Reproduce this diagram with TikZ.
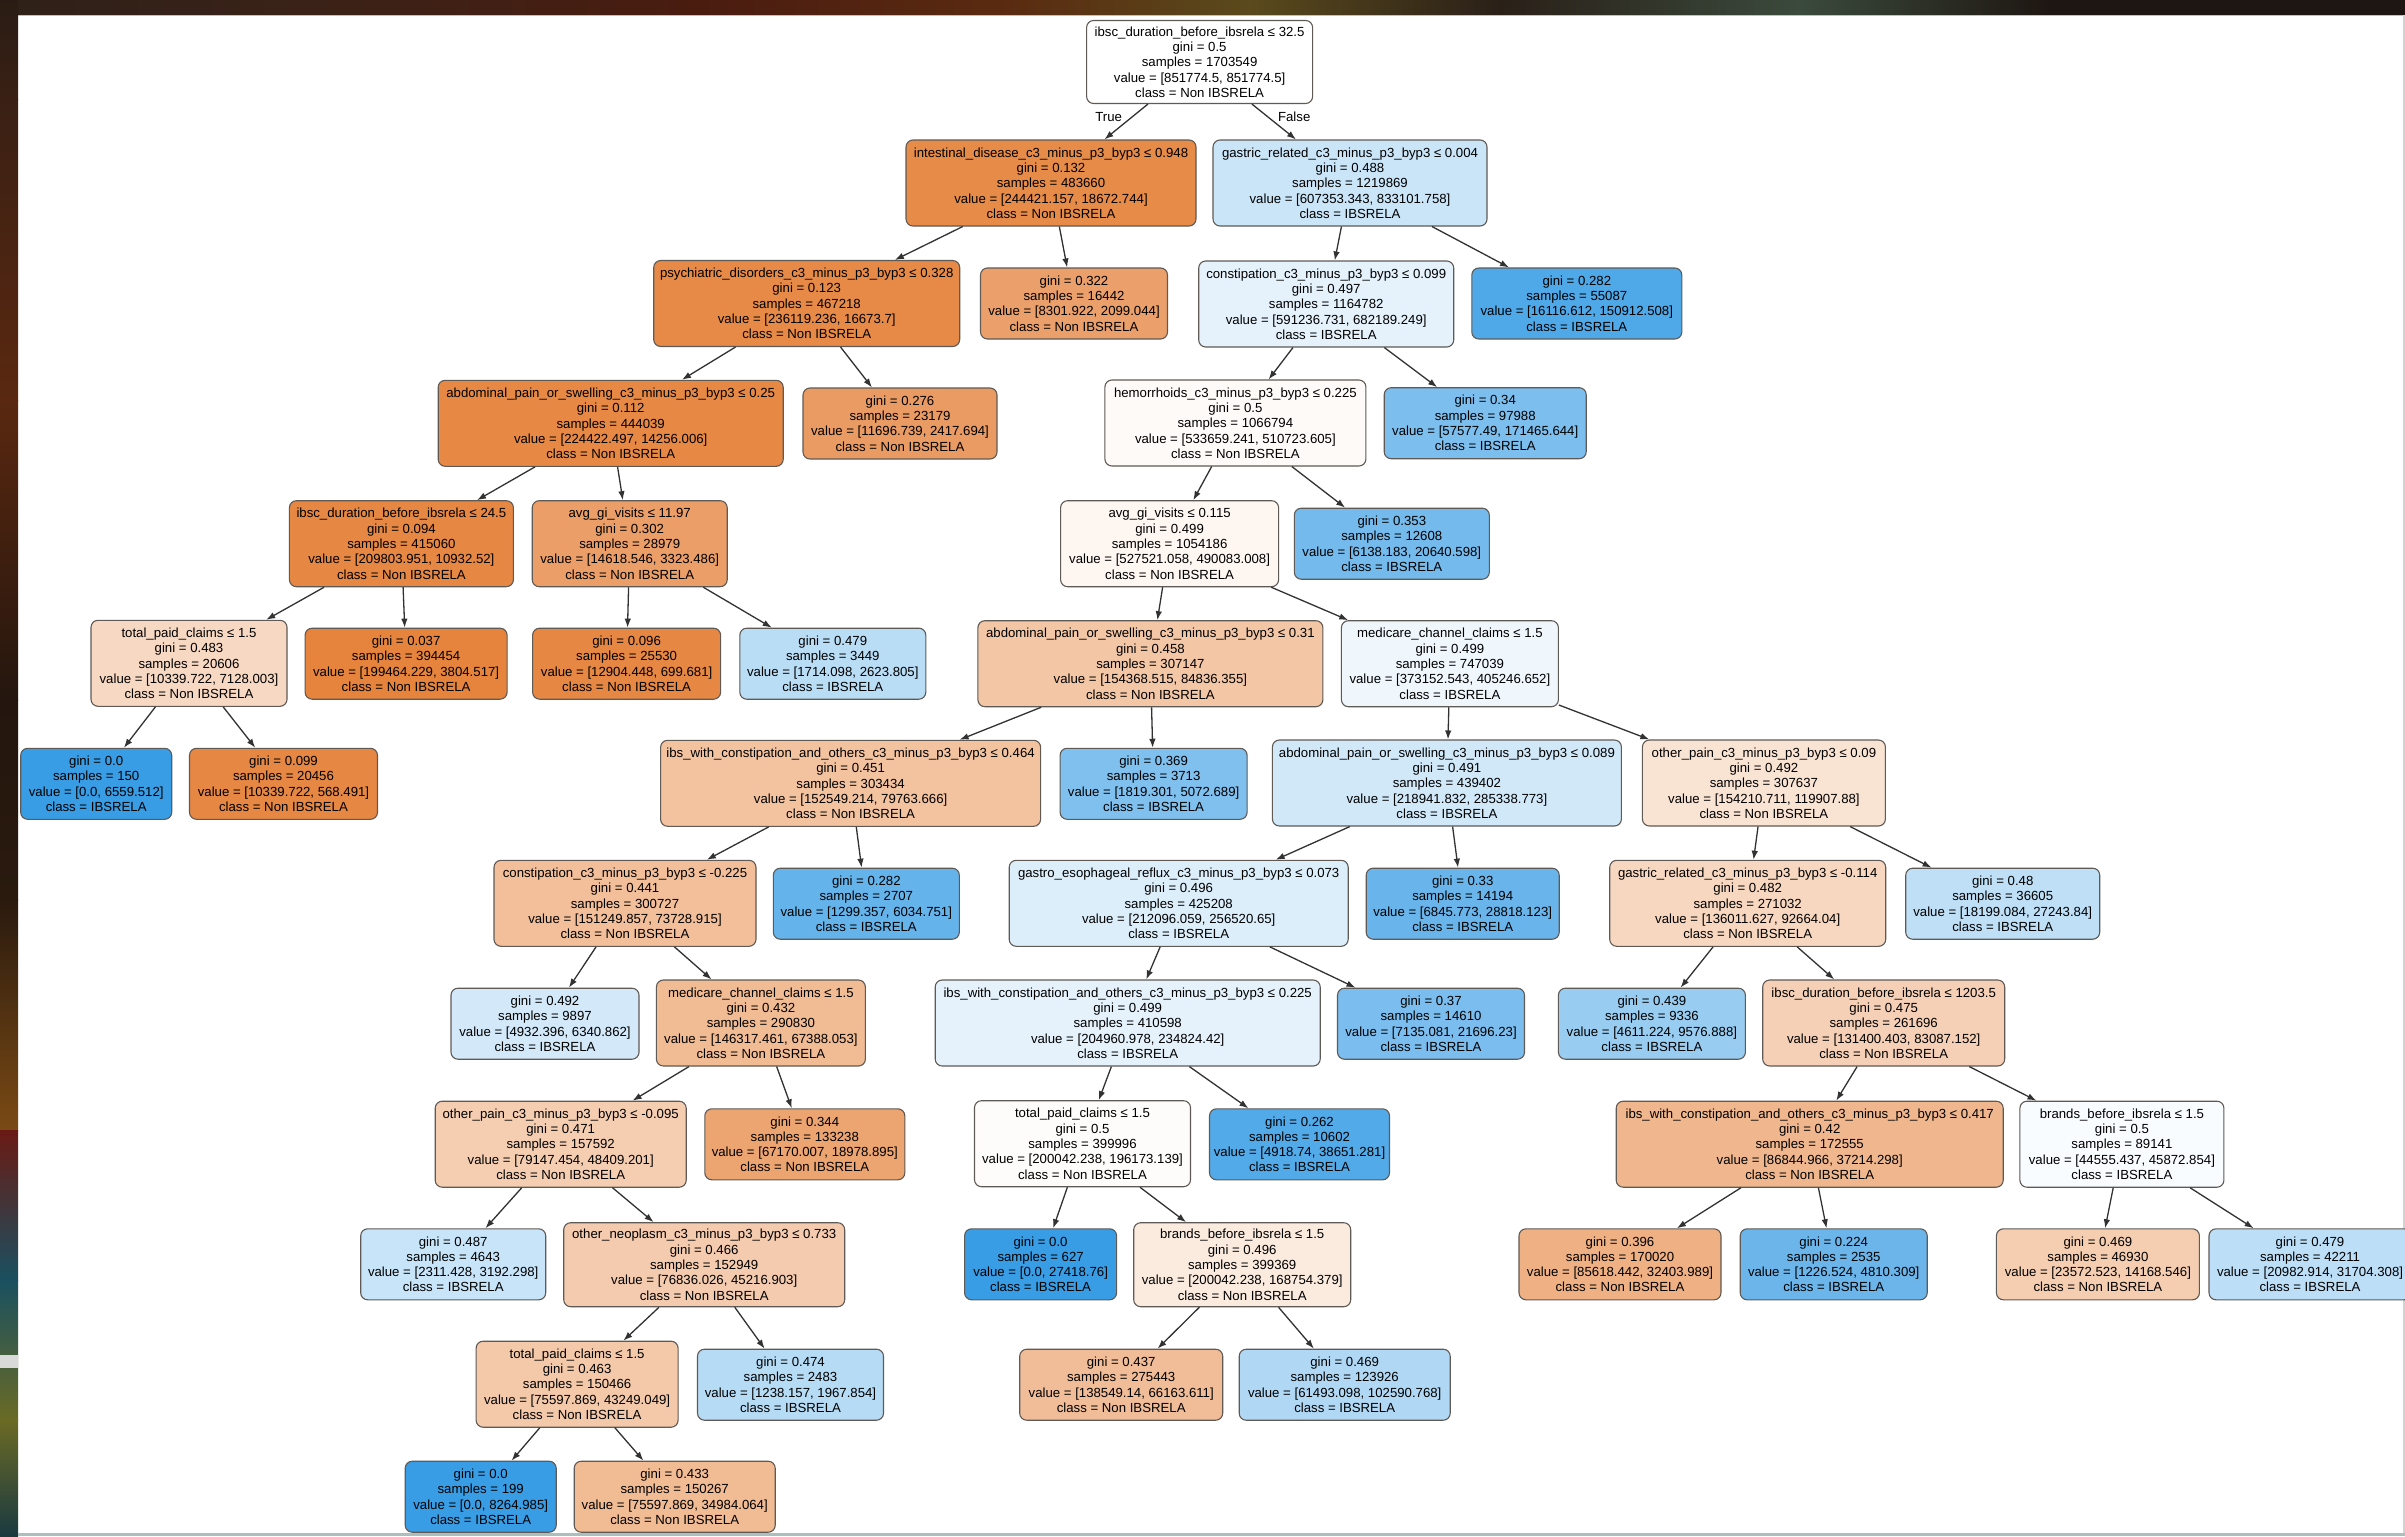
\documentclass[tikz,border=0pt]{standalone}
\usepackage{fontspec}
\setmainfont{Liberation Sans}
\usetikzlibrary{arrows.meta}
\definecolor{orc}{RGB}{229,129,57}
\definecolor{blc}{RGB}{57,157,229}
\definecolor{bordc}{RGB}{95,90,85}
\definecolor{edgec}{RGB}{50,50,50}
\definecolor{tA}{HTML}{2E2018}\definecolor{tB}{HTML}{3A2218}\definecolor{tC}{HTML}{4A1C10}
\definecolor{tD}{HTML}{5A2A10}\definecolor{tE}{HTML}{5A4A1C}\definecolor{tF}{HTML}{2A2018}
\definecolor{tG}{HTML}{3A4A3C}\definecolor{tH}{HTML}{1E1612}
\definecolor{lA}{HTML}{2A1C14}\definecolor{lB}{HTML}{3A2014}\definecolor{lC}{HTML}{5A2810}
\definecolor{lD}{HTML}{24160E}\definecolor{lE}{HTML}{2A1A0E}\definecolor{lF}{HTML}{7A4A14}
\definecolor{lG}{HTML}{6A1A14}\definecolor{lH}{HTML}{1A5060}\definecolor{lI}{HTML}{6A6A24}
\definecolor{lJ}{HTML}{2A5A5A}\definecolor{lK}{HTML}{1A3A40}
\newcommand{\fs}{\fontsize{13.2pt}{15.3pt}\selectfont}
\newcommand{\splitlbl}[5]{#1\\gini = #2\\samples = #3\\value = [#4]\\class = #5}
\newcommand{\leaflbl}[4]{gini = #1\\samples = #2\\value = [#3]\\class = #4}
\newcommand{\clsN}{Non IBSRELA}
\newcommand{\clsI}{IBSRELA}
\begin{document}
\begin{tikzpicture}[x=1pt,y=-1pt,
  tn/.style={draw=bordc, line width=1.1pt, rounded corners=7pt, align=center, inner sep=0pt, font=\fs, minimum height=86pt},
  lf/.style={tn, minimum height=71pt},
  edge/.style={draw=edgec, line width=1.3pt, -{Latex[length=9pt,width=6.5pt]}},
  elbl/.style={font=\fs, inner sep=1pt}]
\clip (0,0) rectangle (2405,1536);
\fill[white] (0,0) rectangle (2405,1536);
% photo frame: top band
\shade[left color=tA, right color=tB] (0,0) rectangle (300,15);
\shade[left color=tB, right color=tC] (300,0) rectangle (700,15);
\shade[left color=tC, right color=tD] (700,0) rectangle (1000,15);
\shade[left color=tD, right color=tE] (1000,0) rectangle (1250,15);
\shade[left color=tE, right color=tF] (1250,0) rectangle (1500,15);
\shade[left color=tF, right color=tG] (1500,0) rectangle (1800,15);
\shade[left color=tG, right color=tH] (1800,0) rectangle (2050,15);
\fill[tH] (2050,0) rectangle (2405,15);
\draw[line width=1.5pt, gray!50] (18,15.75) -- (2405,15.75);
% left strip
\shade[top color=lA, bottom color=lB] (0,0) rectangle (18,100);
\shade[top color=lB, bottom color=lC] (0,100) rectangle (18,400);
\shade[top color=lC, bottom color=lD] (0,400) rectangle (18,700);
\shade[top color=lD, bottom color=lE] (0,700) rectangle (18,900);
\shade[top color=lE, bottom color=lF] (0,900) rectangle (18,1130);
\shade[top color=lG, bottom color=lH] (0,1130) rectangle (18,1280);
\shade[top color=lH, bottom color=lI] (0,1280) rectangle (18,1420);
\shade[top color=lI, bottom color=lK] (0,1420) rectangle (18,1536);
\fill[gray!30] (0,1355) rectangle (18,1368);
% right and bottom edges
\fill[gray!35] (2403,15) rectangle (2405,1536);
\fill[teal!30!gray!50] (18,1533) rectangle (2405,1536);

% nodes
\node[tn, minimum width=226pt, minimum height=83pt, fill=white] (n0) at (1199.6,62) {\splitlbl{ibsc\_duration\_before\_ibsrela ≤ 32.5}{0.5}{1703549}{851774.5, 851774.5}{\clsN}};
\node[tn, minimum width=290pt, fill=orc!92!white] (n1) at (1051,183) {\splitlbl{intestinal\_disease\_c3\_minus\_p3\_byp3 ≤ 0.948}{0.132}{483660}{244421.157, 18672.744}{\clsN}};
\node[tn, minimum width=274pt, fill=blc!27!white] (n2) at (1350,183) {\splitlbl{gastric\_related\_c3\_minus\_p3\_byp3 ≤ 0.004}{0.488}{1219869}{607353.343, 833101.758}{\clsI}};
\node[tn, minimum width=306pt, fill=orc!93!white] (n3) at (806.7,303.5) {\splitlbl{psychiatric\_disorders\_c3\_minus\_p3\_byp3 ≤ 0.328}{0.123}{467218}{236119.236, 16673.7}{\clsN}};
\node[lf, minimum width=187pt, fill=orc!75!white] (n4) at (1074,303.5) {\leaflbl{0.322}{16442}{8301.922, 2099.044}{\clsN}};
\node[tn, minimum width=255pt, fill=blc!13!white] (n5) at (1326.2,304) {\splitlbl{constipation\_c3\_minus\_p3\_byp3 ≤ 0.099}{0.497}{1164782}{591236.731, 682189.249}{\clsI}};
\node[lf, minimum width=210pt, fill=blc!89!white] (n6) at (1576.8,303.5) {\leaflbl{0.282}{55087}{16116.612, 150912.508}{\clsI}};
\node[tn, minimum width=345pt, fill=orc!94!white] (n7) at (610.7,423.3) {\splitlbl{abdominal\_pain\_or\_swelling\_c3\_minus\_p3\_byp3 ≤ 0.25}{0.112}{444039}{224422.497, 14256.006}{\clsN}};
\node[lf, minimum width=194pt, fill=orc!79!white] (n8) at (900,423.5) {\leaflbl{0.276}{23179}{11696.739, 2417.694}{\clsN}};
\node[tn, minimum width=261pt, fill=orc!4!white] (n9) at (1235.4,423) {\splitlbl{hemorrhoids\_c3\_minus\_p3\_byp3 ≤ 0.225}{0.5}{1066794}{533659.241, 510723.605}{\clsN}};
\node[lf, minimum width=202pt, fill=blc!66!white] (n10) at (1485.2,423.2) {\leaflbl{0.34}{97988}{57577.49, 171465.644}{\clsI}};
\node[tn, minimum width=224pt, fill=orc!95!white] (n11) at (401.4,543.7) {\splitlbl{ibsc\_duration\_before\_ibsrela ≤ 24.5}{0.094}{415060}{209803.951, 10932.52}{\clsN}};
\node[tn, minimum width=195pt, fill=orc!77!white] (n12) at (629.7,543.7) {\splitlbl{avg\_gi\_visits ≤ 11.97}{0.302}{28979}{14618.546, 3323.486}{\clsN}};
\node[tn, minimum width=218pt, fill=orc!7!white] (n13) at (1169.6,543.7) {\splitlbl{avg\_gi\_visits ≤ 0.115}{0.499}{1054186}{527521.058, 490083.008}{\clsN}};
\node[lf, minimum width=195pt, fill=blc!70!white] (n14) at (1391.8,543.7) {\leaflbl{0.353}{12608}{6138.183, 20640.598}{\clsI}};
\node[tn, minimum width=196pt, fill=orc!31!white] (n15) at (189,663.3) {\splitlbl{total\_paid\_claims ≤ 1.5}{0.483}{20606}{10339.722, 7128.003}{\clsN}};
\node[lf, minimum width=202pt, fill=orc!98!white] (n16) at (406.1,663.7) {\leaflbl{0.037}{394454}{199464.229, 3804.517}{\clsN}};
\node[lf, minimum width=188pt, fill=orc!95!white] (n17) at (626.6,663.7) {\leaflbl{0.096}{25530}{12904.448, 699.681}{\clsN}};
\node[lf, minimum width=186pt, fill=blc!35!white] (n18) at (832.8,663.7) {\leaflbl{0.479}{3449}{1714.098, 2623.805}{\clsI}};
\node[tn, minimum width=345pt, fill=orc!45!white] (n19) at (1150.4,663.7) {\splitlbl{abdominal\_pain\_or\_swelling\_c3\_minus\_p3\_byp3 ≤ 0.31}{0.458}{307147}{154368.515, 84836.355}{\clsN}};
\node[tn, minimum width=217pt, fill=blc!8!white] (n20) at (1449.9,663.7) {\splitlbl{medicare\_channel\_claims ≤ 1.5}{0.499}{747039}{373152.543, 405246.652}{\clsI}};
\node[lf, minimum width=151pt, fill=blc] (n21) at (96.2,783.8) {\leaflbl{0.0}{150}{0.0, 6559.512}{\clsI}};
\node[lf, minimum width=188pt, fill=orc!95!white] (n22) at (283.5,783.8) {\leaflbl{0.099}{20456}{10339.722, 568.491}{\clsN}};
\node[tn, minimum width=380pt, fill=orc!48!white] (n23) at (850.6,783.3) {\splitlbl{ibs\_with\_constipation\_and\_others\_c3\_minus\_p3\_byp3 ≤ 0.464}{0.451}{303434}{152549.214, 79763.666}{\clsN}};
\node[lf, minimum width=187pt, fill=blc!64!white] (n24) at (1153.6,783.8) {\leaflbl{0.369}{3713}{1819.301, 5072.689}{\clsI}};
\node[tn, minimum width=349pt, fill=blc!23!white] (n25) at (1446.9,783) {\splitlbl{abdominal\_pain\_or\_swelling\_c3\_minus\_p3\_byp3 ≤ 0.089}{0.491}{439402}{218941.832, 285338.773}{\clsI}};
\node[tn, minimum width=243pt, fill=orc!22!white] (n26) at (1763.9,783) {\splitlbl{other\_pain\_c3\_minus\_p3\_byp3 ≤ 0.09}{0.492}{307637}{154210.711, 119907.88}{\clsN}};
\node[tn, minimum width=262pt, fill=orc!51!white] (n27) at (625,903.3) {\splitlbl{constipation\_c3\_minus\_p3\_byp3 ≤ -0.225}{0.441}{300727}{151249.857, 73728.915}{\clsN}};
\node[lf, minimum width=186pt, fill=blc!78!white] (n28) at (866.3,903.7) {\leaflbl{0.282}{2707}{1299.357, 6034.751}{\clsI}};
\node[tn, minimum width=339pt, fill=blc!17!white] (n29) at (1178.7,903.3) {\splitlbl{gastro\_esophageal\_reflux\_c3\_minus\_p3\_byp3 ≤ 0.073}{0.496}{425208}{212096.059, 256520.65}{\clsI}};
\node[lf, minimum width=193pt, fill=blc!76!white] (n30) at (1462.7,903.7) {\leaflbl{0.33}{14194}{6845.773, 28818.123}{\clsI}};
\node[tn, minimum width=276pt, fill=orc!32!white] (n31) at (1747.7,903.3) {\splitlbl{gastric\_related\_c3\_minus\_p3\_byp3 ≤ -0.114}{0.482}{271032}{136011.627, 92664.04}{\clsN}};
\node[lf, minimum width=194pt, fill=blc!33!white] (n32) at (2002.7,903.7) {\leaflbl{0.48}{36605}{18199.084, 27243.84}{\clsI}};
\node[lf, minimum width=188pt, fill=blc!22!white] (n33) at (545,1023.7) {\leaflbl{0.492}{9897}{4932.396, 6340.862}{\clsI}};
\node[tn, minimum width=209pt, fill=orc!54!white] (n34) at (760.9,1023) {\splitlbl{medicare\_channel\_claims ≤ 1.5}{0.432}{290830}{146317.461, 67388.053}{\clsN}};
\node[tn, minimum width=385pt, fill=blc!13!white] (n35) at (1127.7,1023) {\splitlbl{ibs\_with\_constipation\_and\_others\_c3\_minus\_p3\_byp3 ≤ 0.225}{0.499}{410598}{204960.978, 234824.42}{\clsI}};
\node[lf, minimum width=187pt, fill=blc!67!white] (n36) at (1431,1023.7) {\leaflbl{0.37}{14610}{7135.081, 21696.23}{\clsI}};
\node[lf, minimum width=187pt, fill=blc!52!white] (n37) at (1651.9,1023.7) {\leaflbl{0.439}{9336}{4611.224, 9576.888}{\clsI}};
\node[tn, minimum width=242pt, fill=orc!37!white] (n38) at (1883.7,1023) {\splitlbl{ibsc\_duration\_before\_ibsrela ≤ 1203.5}{0.475}{261696}{131400.403, 83087.152}{\clsN}};
\node[tn, minimum width=251pt, fill=orc!39!white] (n39) at (560.7,1144.2) {\splitlbl{other\_pain\_c3\_minus\_p3\_byp3 ≤ -0.095}{0.471}{157592}{79147.454, 48409.201}{\clsN}};
\node[lf, minimum width=200pt, fill=orc!72!white] (n40) at (804.8,1144.3) {\leaflbl{0.344}{133238}{67170.007, 18978.895}{\clsN}};
\node[tn, minimum width=216pt, fill=orc!2!white] (n41) at (1082.5,1143.7) {\splitlbl{total\_paid\_claims ≤ 1.5}{0.5}{399996}{200042.238, 196173.139}{\clsN}};
\node[lf, minimum width=180pt, fill=blc!87!white] (n42) at (1299.5,1144.3) {\leaflbl{0.262}{10602}{4918.74, 38651.281}{\clsI}};
\node[tn, minimum width=387pt, fill=orc!57!white] (n43) at (1809.7,1144.2) {\splitlbl{ibs\_with\_constipation\_and\_others\_c3\_minus\_p3\_byp3 ≤ 0.417}{0.42}{172555}{86844.966, 37214.298}{\clsN}};
\node[tn, minimum width=204pt, fill=blc!3!white] (n44) at (2121.9,1144.2) {\splitlbl{brands\_before\_ibsrela ≤ 1.5}{0.5}{89141}{44555.437, 45872.854}{\clsI}};
\node[lf, minimum width=185pt, fill=blc!28!white] (n45) at (453.2,1264.3) {\leaflbl{0.487}{4643}{2311.428, 3192.298}{\clsI}};
\node[tn, minimum width=281pt, minimum height=84pt, fill=orc!41!white] (n46) at (704.2,1264.7) {\splitlbl{other\_neoplasm\_c3\_minus\_p3\_byp3 ≤ 0.733}{0.466}{152949}{76836.026, 45216.903}{\clsN}};
\node[lf, minimum width=152pt, fill=blc] (n47) at (1040.6,1264.3) {\leaflbl{0.0}{627}{0.0, 27418.76}{\clsI}};
\node[tn, minimum width=217pt, minimum height=84pt, fill=orc!16!white] (n48) at (1242.2,1264.7) {\splitlbl{brands\_before\_ibsrela ≤ 1.5}{0.496}{399369}{200042.238, 168754.379}{\clsN}};
\node[lf, minimum width=202pt, fill=orc!62!white] (n49) at (1620,1264.3) {\leaflbl{0.396}{170020}{85618.442, 32403.989}{\clsN}};
\node[lf, minimum width=187pt, fill=blc!75!white] (n50) at (1833.7,1264.3) {\leaflbl{0.224}{2535}{1226.524, 4810.309}{\clsI}};
\node[lf, minimum width=203pt, fill=orc!40!white] (n51) at (2097.9,1264.3) {\leaflbl{0.469}{46930}{23572.523, 14168.546}{\clsN}};
\node[lf, minimum width=202pt, fill=blc!34!white] (n52) at (2310,1264.3) {\leaflbl{0.479}{42211}{20982.914, 31704.308}{\clsI}};
\node[tn, minimum width=202pt, fill=orc!43!white] (n53) at (577.1,1384.2) {\splitlbl{total\_paid\_claims ≤ 1.5}{0.463}{150466}{75597.869, 43249.049}{\clsN}};
\node[lf, minimum width=186pt, fill=blc!37!white] (n54) at (790.5,1384.7) {\leaflbl{0.474}{2483}{1238.157, 1967.854}{\clsI}};
\node[lf, minimum width=203pt, fill=orc!52!white] (n55) at (1121.2,1384.7) {\leaflbl{0.437}{275443}{138549.14, 66163.611}{\clsN}};
\node[lf, minimum width=211pt, fill=blc!40!white] (n56) at (1344.7,1384.7) {\leaflbl{0.469}{123926}{61493.098, 102590.768}{\clsI}};
\node[lf, minimum width=151pt, fill=blc] (n57) at (480.7,1496.7) {\leaflbl{0.0}{199}{0.0, 8264.985}{\clsI}};
\node[lf, minimum width=201pt, fill=orc!54!white] (n58) at (674.7,1496.7) {\leaflbl{0.433}{150267}{75597.869, 34984.064}{\clsN}};

% edge labels
\node[elbl] (ltrue) at (1108.6,116.7) {True};
\node[elbl] (lfalse) at (1294.2,116.7) {False};

% edges
\foreach \p/\c in {n0/n1,n0/n2,n1/n3,n1/n4,n2/n5,n2/n6,n3/n7,n3/n8,n5/n9,n5/n10,
  n7/n11,n7/n12,n9/n13,n9/n14,n11/n15,n11/n16,n12/n17,n12/n18,n13/n19,n13/n20,
  n15/n21,n15/n22,n19/n23,n19/n24,n20/n25,n20/n26,n23/n27,n23/n28,n25/n29,n25/n30,
  n26/n31,n26/n32,n27/n33,n27/n34,n29/n35,n29/n36,n31/n37,n31/n38,n34/n39,n34/n40,
  n35/n41,n35/n42,n38/n43,n38/n44,n39/n45,n39/n46,n41/n47,n41/n48,n43/n49,n43/n50,
  n44/n51,n44/n52,n46/n53,n46/n54,n48/n55,n48/n56,n53/n57,n53/n58}
  {\draw[edge] (\p) -- (\c);}
\end{tikzpicture}
\end{document}
